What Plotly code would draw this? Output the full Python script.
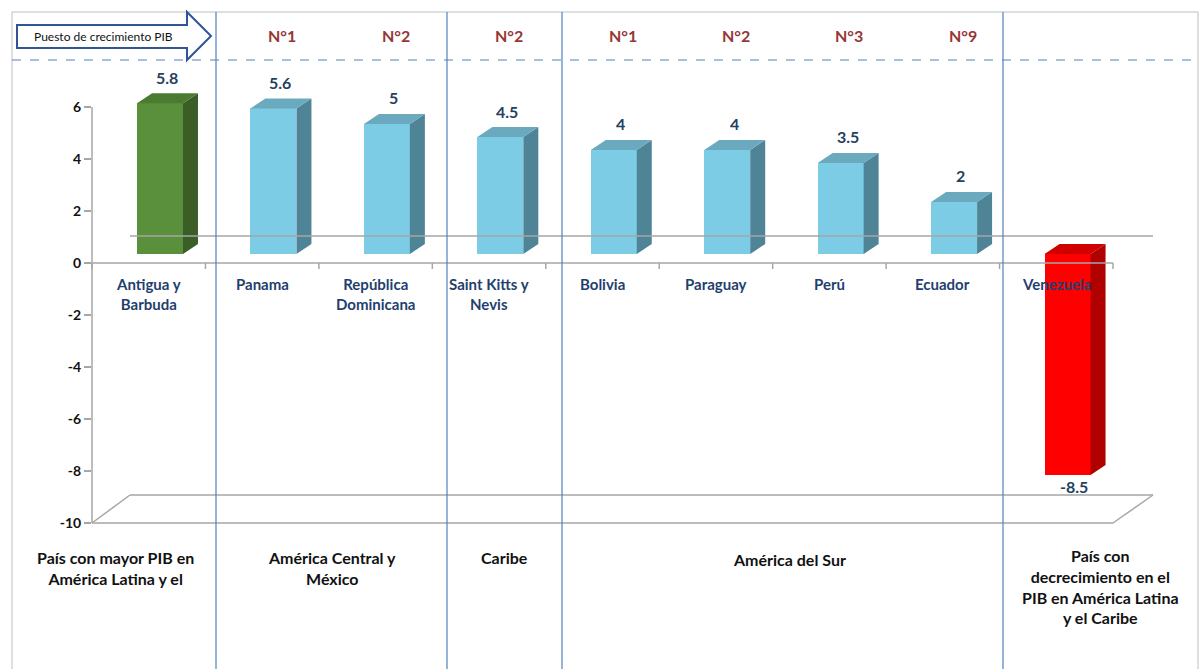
import plotly.graph_objects as go

# ---- data ----
countries = ["Antigua y<br>Barbuda", "Panama", "República<br>Dominicana", "Saint Kitts y<br>Nevis",
             "Bolivia", "Paraguay", "Perú", "Ecuador", "Venezuela"]
growth = [5.8, 5.6, 5.0, 4.5, 4.0, 4.0, 3.5, 2.0, -8.5]
value_labels = ["5.8", "5.6", "5", "4.5", "4", "4", "3.5", "2", "-8.5"]
ranks = ["", "N°1", "N°2", "N°2", "N°1", "N°2", "N°3", "N°9", ""]
yticks = [6, 4, 2, 0, -2, -4, -6, -8, -10]
ytick_text = ["6", "4", "2", "0", "-2", "-4", "-6", "-8", "-10"]

# ---- layout geometry (pixels) ----
W, H = 1201, 669
L, R, T, B = 92, 1113, 20, 523
pw, ph = R - L, B - T
ncat = len(countries)
catw = pw / ncat
ppu = 26.0  # pixels per unit
ylo = -10.0
yhi = ylo + ph / ppu
shift = (263 - 254) / ppu
y2lo, y2hi = ylo - shift, yhi - shift


def px(x):
    return (x - L) / pw


def py(y):
    return (B - y) / ph


def pv2(v):
    return (v - y2lo) / (y2hi - y2lo)


def colors(i, v):
    if v < 0:
        return "#FF0000", "#B00000", "#D00000"
    if i == 0:
        return "#5A8F3C", "#3B5E27", "#4B7A31"
    return "#7DCCE6", "#4F8396", "#6AA9BE"


bar_off, bar_w = -0.103, 0.405
dx = 15 / catw
dy = 10 / ppu

fig = go.Figure()
xs = list(range(ncat))
fronts = [colors(i, v)[0] for i, v in enumerate(growth)]

for i, v in enumerate(growth):
    f, s, t = colors(i, v)
    top = max(0, v)
    base = min(0, v)
    x0 = i + bar_off
    x1 = x0 + bar_w
    fig.add_trace(go.Scatter(
        x=[x1, x1 + dx, x1 + dx, x1, x1], y=[top, top + dy, base + dy, base, top],
        fill="toself", fillcolor=s, line=dict(width=0), mode="lines",
        hoverinfo="skip", showlegend=False, yaxis="y2"))
    fig.add_trace(go.Scatter(
        x=[x0, x0 + dx, x1 + dx, x1, x0], y=[top, top + dy, top + dy, top, top],
        fill="toself", fillcolor=t, line=dict(width=0), mode="lines",
        hoverinfo="skip", showlegend=False, yaxis="y2"))

fig.add_trace(go.Bar(x=xs, y=growth, offset=bar_off, width=bar_w,
                     marker=dict(color=fronts, line=dict(width=0)),
                     yaxis="y2", showlegend=False, hoverinfo="skip"))

ann = []
navy = "#1F3F6E"
FONT = "Lato"

for i, (v, lab) in enumerate(zip(growth, value_labels)):
    ann.append(dict(x=i + 0.16, y=pv2(v), xref="x", yref="paper",
                    text="<b>%s</b>" % lab, showarrow=False, xanchor="center",
                    yshift=26 if v >= 0 else -11,
                    font=dict(family=FONT, size=16, color="#243F60"), yanchor="middle"))

for i, c in enumerate(countries):
    ann.append(dict(x=i, y=0, xref="x", yref="y", text="<b>%s</b>" % c, showarrow=False,
                    xanchor="center", yanchor="top", yshift=-10,
                    font=dict(family=FONT, size=15, color=navy), align="center"))

for i, r in enumerate(ranks):
    if r:
        ann.append(dict(x=i, y=py(35), xref="x", yref="paper", text="<b>%s</b>" % r,
                        showarrow=False, xshift=20, xanchor="center", yanchor="middle",
                        font=dict(family=FONT, size=16, color="#953735")))

sections = [
    (115, 557, "País con mayor PIB en<br>América Latina y el"),
    (332, 557, "América Central y<br>México"),
    (504, 557, "Caribe"),
    (789, 559, "América del Sur"),
    (1100, 555, "País con<br>decrecimiento en el<br>PIB en América Latina<br>y el Caribe"),
]
for x, y, t in sections:
    ann.append(dict(x=px(x), y=py(y - 11), xref="paper", yref="paper", text="<b>%s</b>" % t,
                    showarrow=False, xanchor="center", yanchor="top", align="center",
                    font=dict(family=FONT, size=16, color="#111111")))

ann.append(dict(x=px(103), y=py(37), xref="paper", yref="paper",
                text="Puesto de crecimiento PIB", showarrow=False, xanchor="center",
                yanchor="middle", font=dict(family=FONT, size=12, color="#111111")))

shapes = []
gray = "#A6A6A6"


def pline(x0, y0, x1, y1, color=gray, width=1.5, dash=None):
    d = dict(type="line", xref="paper", yref="paper", x0=px(x0), y0=py(y0), x1=px(x1), y1=py(y1),
             line=dict(color=color, width=width))
    if dash:
        d["line"]["dash"] = dash
    shapes.append(d)


# frame
pline(12, 12, 12, 669, color="#BFBFBF", width=1)
pline(12, 12, 1198, 12, color="#BFBFBF", width=1)
pline(1198, 12, 1198, 669, color="#BFBFBF", width=1)
# value axis line (from -10 to 6)
shapes.append(dict(type="line", xref="paper", yref="y", x0=0, x1=0, y0=-10, y1=6,
                   line=dict(color=gray, width=1.5)))
# back wall zero line
pline(130, 236, 1153, 236)
# front zero line and ticks
pline(L, 263, R, 263)
for k in range(ncat + 1):
    x = L + k * catw
    pline(x, 263, x, 269)
# floor
pline(L, 523, R, 523)
pline(130, 495, 1153, 495)
pline(L, 523, 130, 495)
pline(R, 523, 1153, 495)
# section separators
for x in [216, 447, 562, 1003]:
    pline(x, 12, x, 669, color="#4F81BD", width=1.2)
# dashed line
pline(12, 60, 1198, 60, color="#4F81BD", width=1.2, dash="dash")

# arrow
pts = [(17, 25), (187, 25), (187, 12), (211, 36), (187, 60), (187, 48), (17, 48)]
path = "M " + " L ".join("%f,%f" % (px(a), py(b)) for a, b in pts) + " Z"
shapes.append(dict(type="path", xref="paper", yref="paper", path=path,
                   fillcolor="white", line=dict(color="#2F5597", width=2)))

fig.update_layout(
    width=W, height=H, margin=dict(l=L, r=W - R, t=T, b=H - B),
    paper_bgcolor="white", plot_bgcolor="rgba(0,0,0,0)",
    xaxis=dict(range=[-0.5, ncat - 0.5], showgrid=False, zeroline=False, showticklabels=False,
               showline=False, ticks=""),
    yaxis=dict(range=[ylo, yhi], tickvals=yticks, ticktext=["<b>%s</b>" % t for t in ytick_text],
               showgrid=False, zeroline=False, showline=False, ticks="outside", ticklen=7,
               tickcolor=gray, tickwidth=1.5, tickfont=dict(family=FONT, size=14, color="#111111")),
    yaxis2=dict(range=[y2lo, y2hi], overlaying="y", visible=False),
    annotations=ann, shapes=shapes, bargap=0,
)
fig.write_html("out.html", config={"displayModeBar": False},
               post_script="document.body.style.margin='0';")
